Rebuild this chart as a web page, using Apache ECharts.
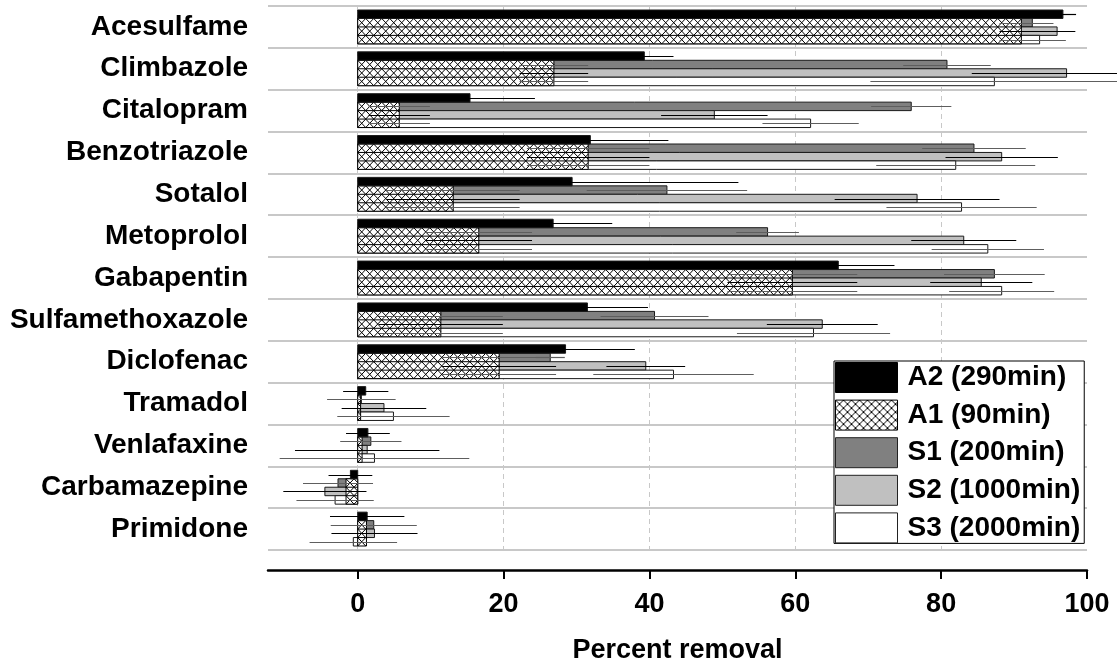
<!DOCTYPE html>
<html>
<head>
<meta charset="utf-8">
<script src="https://cdn.jsdelivr.net/npm/echarts@6/dist/echarts.min.js"></script>
<style>
  html, body { margin: 0; padding: 0; background: #fff; }
  #chart { width: 1117px; height: 669px; }
</style>
</head>
<body>
<div id="chart"></div>
<script>
// Compounds, top to bottom
const categories = ['Acesulfame', 'Climbazole', 'Citalopram', 'Benzotriazole', 'Sotalol',
  'Metoprolol', 'Gabapentin', 'Sulfamethoxazole', 'Diclofenac', 'Tramadol',
  'Venlafaxine', 'Carbamazepine', 'Primidone'];

const seriesNames = ['A2 (290min)', 'A1 (90min)', 'S1 (200min)', 'S2 (1000min)', 'S3 (2000min)'];

// Mean percent removal and error (half-width) per compound
const a2 = [96.7, 39.3, 15.4, 31.9, 29.4, 26.8, 65.9, 31.5, 28.5, 1.1, 1.4, -1.0, 1.3];
const a2Err = [1.8, 4.0, 8.9, 10.7, 22.8, 8.1, 7.7, 8.3, 9.5, 3.1, 3.0, 3.0, 5.1];
const a1 = [91.0, 26.9, 5.7, 31.6, 13.1, 16.6, 59.6, 11.4, 19.4, 0.4, 0.6, -1.6, 1.2];
const a1Err = [3.0, 4.7, 4.2, 8.4, 9.1, 7.3, 8.9, 8.5, 7.8, 2.5, 2.5, 2.5, 2.5];
const s1 = [92.5, 80.8, 75.9, 84.5, 42.4, 56.2, 87.3, 40.7, 26.4, 0.5, 1.8, -2.7, 2.2];
const s1Err = [2.9, 6.0, 5.5, 7.1, 11.0, 4.3, 6.9, 7.4, 2.0, 4.7, 4.2, 4.8, 5.9];
const s2 = [95.9, 97.2, 48.9, 88.3, 76.7, 83.1, 85.5, 63.7, 39.5, 3.6, 1.3, -4.5, 2.3];
const s2Err = [2.5, 13.0, 7.3, 7.7, 11.3, 7.2, 7.0, 7.6, 5.4, 5.8, 9.9, 5.7, 5.9];
const s3 = [93.5, 87.3, 62.1, 82.0, 82.8, 86.4, 88.3, 62.5, 43.3, 4.9, 2.3, -3.1, -0.6];
const s3Err = [3.6, 17.0, 6.6, 10.9, 10.3, 7.7, 7.2, 10.5, 11.0, 7.7, 13.0, 5.3, 6.0];

const xTicks = [0, 20, 40, 60, 80, 100];

// Cross-hatch tile for the A1 legend swatch
const hatchTile = document.createElement('canvas');
hatchTile.width = 8; hatchTile.height = 8;
(function () {
  const g = hatchTile.getContext('2d');
  g.fillStyle = '#fff'; g.fillRect(0, 0, 8, 8);
  g.strokeStyle = '#000'; g.lineWidth = 1;
  g.beginPath();
  g.moveTo(0, 0); g.lineTo(8, 8);
  g.moveTo(8, 0); g.lineTo(0, 8);
  g.stroke();
})();
const hatchFill = { image: hatchTile, repeat: 'repeat' };

// Each compound band holds four rows: A2 on top, then S1, S2, S3; A1 spans the three S rows
function bandGeom(api, ci) {
  const c = api.coord([0, ci]);
  const band = api.size([0, 1])[1];
  const pad = 4;
  const rowH = (band - 2 * pad) / 4;
  return { x0: c[0], top: c[1] - band / 2 + pad, rowH: rowH };
}

function barRenderer(row, fill) {
  return function (params, api) {
    const ci = api.value(1);
    const g = bandGeom(api, ci);
    const xv = api.coord([api.value(0), ci])[0];
    return {
      type: 'rect',
      shape: { x: Math.min(g.x0, xv), y: g.top + row * g.rowH, width: Math.abs(xv - g.x0), height: g.rowH },
      style: { fill: fill, stroke: '#1a1a1a', lineWidth: 1 }
    };
  };
}

function hatchRenderer(params, api) {
  const ci = api.value(1);
  const g = bandGeom(api, ci);
  const xv = api.coord([api.value(0), ci])[0];
  const xa = Math.min(g.x0, xv), xb = Math.max(g.x0, xv);
  const top = g.top + g.rowH, h = 3 * g.rowH;
  const cell = 8;
  const children = [{ type: 'rect', shape: { x: xa, y: top, width: xb - xa, height: h }, style: { fill: '#fff' } }];
  for (let r = 0; r < 3; r++) {
    const t = top + r * g.rowH, b = t + g.rowH;
    const tri = function (x) {
      const u = (x - xa) / cell; const k = Math.floor(u); const f = u - k;
      return (k % 2 === 0) ? t + f * (b - t) : b - f * (b - t);
    };
    const p1 = [], p2 = [];
    for (let k = 0; xa + k * cell < xb; k++) {
      const x = xa + k * cell;
      const y = (k % 2 === 0) ? t : b;
      p1.push([x, y]); p2.push([x, t + b - y]);
    }
    const ye = tri(xb);
    p1.push([xb, ye]); p2.push([xb, t + b - ye]);
    children.push({ type: 'polyline', shape: { points: p1 }, style: { stroke: '#000', lineWidth: 1, fill: null } });
    children.push({ type: 'polyline', shape: { points: p2 }, style: { stroke: '#000', lineWidth: 1, fill: null } });
  }
  for (let r = 1; r < 3; r++) {
    const y = top + r * g.rowH;
    children.push({ type: 'line', shape: { x1: xa, y1: y, x2: xb, y2: y }, style: { stroke: '#000', lineWidth: 1 } });
  }
  children.push({ type: 'rect', shape: { x: xa, y: top, width: xb - xa, height: h }, style: { fill: null, stroke: '#000', lineWidth: 1 } });
  return { type: 'group', children: children };
}

function errRenderer(params, api) {
  const ci = api.value(2), row = api.value(3);
  const g = bandGeom(api, ci);
  const p0 = api.coord([api.value(0), ci]);
  const p1 = api.coord([api.value(1), ci]);
  const y = Math.round(g.top + (row + 0.5) * g.rowH) + 0.5;
  return {
    type: 'line',
    shape: { x1: p0[0], y1: y, x2: p1[0], y2: y },
    style: { stroke: api.value(4) ? '#5e5e5e' : '#000', lineWidth: 1.2 }
  };
}

const pairs = arr => arr.map((v, i) => [v, i]);

// Error whiskers: [low, high, compound, row, grey]
const errData = [];
function addErr(vals, errs, rows) {
  vals.forEach((v, i) => rows.forEach(r => errData.push([v - errs[i], v + errs[i], i, r, r % 2])));
}
addErr(a2, a2Err, [0]);
addErr(a1, a1Err, [1, 2, 3]);
addErr(s1, s1Err, [1]);
addErr(s2, s2Err, [2]);
addErr(s3, s3Err, [3]);

const labelFont = "'Liberation Sans', Arial, Helvetica, sans-serif";

const chart = echarts.init(document.getElementById('chart'));
chart.setOption({
  animation: false,
  backgroundColor: '#fff',
  grid: { left: 268, right: 30, top: 6, bottom: 117 },
  legend: {
    orient: 'vertical', left: 834, top: 361,
    padding: [1, 4, 0, 1],
    itemWidth: 62, itemHeight: 30, itemGap: 6.6,
    selectedMode: false,
    borderColor: '#000', borderWidth: 1, backgroundColor: '#fff',
    textStyle: { fontFamily: labelFont, fontWeight: 'bold', fontSize: 28, lineHeight: 30, color: '#000', padding: [0, 0, 0, 5] },
    data: [
      { name: seriesNames[0], icon: 'rect', itemStyle: { color: '#000', borderColor: '#000', borderWidth: 1 } },
      { name: seriesNames[1], icon: 'rect', itemStyle: { color: hatchFill, borderColor: '#000', borderWidth: 1 } },
      { name: seriesNames[2], icon: 'rect', itemStyle: { color: '#808080', borderColor: '#222', borderWidth: 1 } },
      { name: seriesNames[3], icon: 'rect', itemStyle: { color: '#c0c0c0', borderColor: '#222', borderWidth: 1 } },
      { name: seriesNames[4], icon: 'rect', itemStyle: { color: '#fff', borderColor: '#222', borderWidth: 1 } }
    ]
  },
  xAxis: {
    type: 'value', min: -12.3, max: 100, offset: 20,
    axisLine: { show: true, onZero: false, lineStyle: { color: '#000', width: 2.5 } },
    axisTick: { show: true, length: 9, customValues: xTicks, lineStyle: { color: '#000', width: 2 } },
    axisLabel: { customValues: xTicks, fontFamily: labelFont, fontWeight: 'bold', fontSize: 27, color: '#000', margin: 21 },
    splitLine: { show: true, showMaxLine: false, lineStyle: { color: '#c8c8c8', type: [5, 4], width: 1 } },
    name: 'Percent removal', nameLocation: 'middle', nameGap: 67,
    nameTextStyle: { fontFamily: labelFont, fontWeight: 'bold', fontSize: 27, color: '#000' }
  },
  yAxis: {
    type: 'category', data: categories, inverse: true,
    axisLine: { show: false }, axisTick: { show: false },
    axisLabel: { fontFamily: labelFont, fontWeight: 'bold', fontSize: 28, color: '#000', margin: 20 },
    splitLine: { show: true, lineStyle: { color: '#c8c8c8', width: 2 } }
  },
  series: [
    { type: 'custom', name: seriesNames[2], z: 2, data: pairs(s1), encode: { x: 0, y: 1 }, itemStyle: { color: '#808080' }, renderItem: barRenderer(1, '#808080') },
    { type: 'custom', name: seriesNames[3], z: 2, data: pairs(s2), encode: { x: 0, y: 1 }, itemStyle: { color: '#c0c0c0' }, renderItem: barRenderer(2, '#c0c0c0') },
    { type: 'custom', name: seriesNames[4], z: 2, data: pairs(s3), encode: { x: 0, y: 1 }, itemStyle: { color: '#fff' }, renderItem: barRenderer(3, '#fff') },
    { type: 'custom', name: seriesNames[1], z: 3, data: pairs(a1), encode: { x: 0, y: 1 }, itemStyle: { color: hatchFill }, renderItem: hatchRenderer },
    { type: 'custom', name: seriesNames[0], z: 3, data: pairs(a2), encode: { x: 0, y: 1 }, itemStyle: { color: '#000' }, renderItem: barRenderer(0, '#000') },
    { type: 'custom', name: 'error', z: 4, data: errData, encode: { x: [0, 1], y: 2 }, renderItem: errRenderer, silent: true }
  ]
});
</script>
</body>
</html>
